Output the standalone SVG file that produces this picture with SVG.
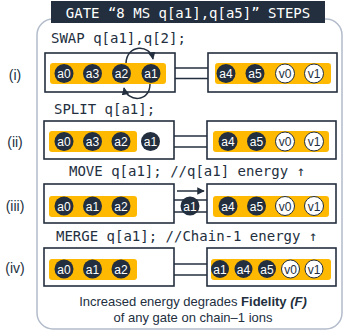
<svg xmlns="http://www.w3.org/2000/svg" width="346" height="336" viewBox="0 0 346 336">
<defs>
<style>
.code{font-family:"DejaVu Sans Mono","Liberation Mono",monospace;font-size:14px;fill:#232f3e}
.title{font-family:"DejaVu Sans Mono","Liberation Mono",monospace;font-size:14px;fill:#ffffff}
.lbl{font-family:"Liberation Sans",Arial,sans-serif;font-size:14px;fill:#232f3e;text-anchor:middle}
.box{fill:#ffffff;stroke:#232f3e;stroke-width:1.6}
.bar{fill:#ffb900}
.ion{fill:#232f3e}
.vion{fill:#ffffff;stroke:#232f3e;stroke-width:1}
.it{font-family:"Liberation Sans",Arial,sans-serif;font-size:12px;fill:#ffffff;text-anchor:middle}
.vt{font-family:"Liberation Sans",Arial,sans-serif;font-size:12px;fill:#232f3e;text-anchor:middle}
.conn{stroke:#232f3e;stroke-width:1.5;fill:none}
.note{font-family:"Liberation Sans",Arial,sans-serif;font-size:13px;fill:#232f3e;text-anchor:middle}
</style>
<marker id="ah" viewBox="0 0 10 10" refX="9" refY="5" markerWidth="5" markerHeight="5" orient="auto">
<path d="M0,0 L10,5 L0,10 z" fill="#232f3e"/>
</marker>
</defs>

<rect x="37" y="19" width="305" height="310" rx="16" fill="#ffffff" stroke="#b3bccb" stroke-width="1.5"/>
<g id="title">
<rect x="51" y="1" width="274" height="22" fill="#232f3e"/>
<text class="title" x="188" y="18" text-anchor="middle">GATE “8 MS q[a1],q[a5]” STEPS</text>
</g>

<g id="step-labels">
<text class="lbl" x="15" y="80">(i)</text>
<text class="lbl" x="15" y="147">(ii)</text>
<text class="lbl" x="15" y="211">(iii)</text>
<text class="lbl" x="15" y="273">(iv)</text>
</g>

<g id="code-lines">
<text class="code" x="51" y="43">SWAP q[a1],q[2];</text>
<text class="code" x="54" y="114">SPLIT q[a1];</text>
<text class="code" x="69" y="176">MOVE q[a1]; //q[a1] energy ↑</text>
<text class="code" x="56" y="241">MERGE q[a1]; //Chain-1 energy ↑</text>
</g>

<!-- Row i -->
<g id="row1-chain0">
<rect class="box" x="45" y="53" width="130" height="39"/>
<rect class="bar" x="50" y="63" width="116" height="21" rx="3"/>
<circle class="ion" cx="64" cy="73.5" r="9.5"/><text class="it" x="64" y="78">a0</text>
<circle class="ion" cx="92.5" cy="73.5" r="9.5"/><text class="it" x="92.5" y="78">a3</text>
<circle class="ion" cx="121.5" cy="73.5" r="9.5"/><text class="it" x="121.5" y="78">a2</text>
<circle class="ion" cx="151" cy="73.5" r="9.5"/><text class="it" x="151" y="78">a1</text>
</g>
<g id="row1-chain1">
<rect class="box" x="208" y="53" width="129" height="39"/>
<rect class="bar" x="215" y="63" width="116" height="21" rx="3"/>
<circle class="ion" cx="226" cy="73.5" r="9.5"/><text class="it" x="226" y="78">a4</text>
<circle class="ion" cx="255" cy="73.5" r="9.5"/><text class="it" x="255" y="78">a5</text>
<circle class="vion" cx="285" cy="73.5" r="9.5"/><text class="vt" x="285" y="78">v0</text>
<circle class="vion" cx="314" cy="73.5" r="9.5"/><text class="vt" x="314" y="78">v1</text>
</g>

<!-- Row ii -->
<g id="row2-chain0">
<rect class="box" x="44" y="121" width="130" height="38"/>
<rect class="bar" x="49" y="131" width="88" height="21" rx="3"/>
<circle class="ion" cx="64" cy="141.5" r="9.5"/><text class="it" x="64" y="146">a0</text>
<circle class="ion" cx="92.5" cy="141.5" r="9.5"/><text class="it" x="92.5" y="146">a3</text>
<circle class="ion" cx="121" cy="141.5" r="9.5"/><text class="it" x="121" y="146">a2</text>
<circle class="ion" cx="150.5" cy="141.5" r="9.5"/><text class="it" x="150.5" y="146">a1</text>
</g>
<g id="row2-chain1">
<rect class="box" x="207" y="121" width="129" height="38"/>
<rect class="bar" x="213" y="131" width="116" height="21" rx="3"/>
<circle class="ion" cx="228" cy="141.5" r="9.5"/><text class="it" x="228" y="146">a4</text>
<circle class="ion" cx="256.5" cy="141.5" r="9.5"/><text class="it" x="256.5" y="146">a5</text>
<circle class="vion" cx="285" cy="141.5" r="9.5"/><text class="vt" x="285" y="146">v0</text>
<circle class="vion" cx="314" cy="141.5" r="9.5"/><text class="vt" x="314" y="146">v1</text>
</g>

<!-- Row iii -->
<g id="row3-chain0">
<rect class="box" x="44" y="184" width="130" height="39"/>
<rect class="bar" x="49" y="196" width="88" height="21" rx="3"/>
<circle class="ion" cx="64" cy="206" r="9.5"/><text class="it" x="64" y="210.5">a0</text>
<circle class="ion" cx="92.5" cy="206" r="9.5"/><text class="it" x="92.5" y="210.5">a1</text>
<circle class="ion" cx="121" cy="206" r="9.5"/><text class="it" x="121" y="210.5">a2</text>
</g>
<g id="row3-chain1">
<rect class="box" x="207" y="184" width="129" height="39"/>
<rect class="bar" x="213" y="196" width="116" height="21" rx="3"/>
<circle class="ion" cx="228" cy="206" r="9.5"/><text class="it" x="228" y="210.5">a4</text>
<circle class="ion" cx="256.5" cy="206" r="9.5"/><text class="it" x="256.5" y="210.5">a5</text>
<circle class="vion" cx="285" cy="206" r="9.5"/><text class="vt" x="285" y="210.5">v0</text>
<circle class="vion" cx="314" cy="206" r="9.5"/><text class="vt" x="314" y="210.5">v1</text>
</g>

<!-- Row iv -->
<g id="row4-chain0">
<rect class="box" x="44" y="248" width="130" height="38"/>
<rect class="bar" x="49" y="259" width="88" height="21" rx="3"/>
<circle class="ion" cx="64" cy="269" r="9.5"/><text class="it" x="64" y="273.5">a0</text>
<circle class="ion" cx="92.5" cy="269" r="9.5"/><text class="it" x="92.5" y="273.5">a1</text>
<circle class="ion" cx="121" cy="269" r="9.5"/><text class="it" x="121" y="273.5">a2</text>
</g>
<g id="row4-chain1">
<rect class="box" x="207" y="248" width="129" height="38"/>
<rect class="bar" x="211" y="259" width="120" height="21" rx="3"/>
<circle class="ion" cx="220" cy="269" r="9"/><text class="it" x="220" y="273.5">a1</text>
<circle class="ion" cx="243.5" cy="269" r="9"/><text class="it" x="243.5" y="273.5">a4</text>
<circle class="ion" cx="267" cy="269" r="9"/><text class="it" x="267" y="273.5">a5</text>
<circle class="vion" cx="290.5" cy="269" r="9"/><text class="vt" x="290.5" y="273.5">v0</text>
<circle class="vion" cx="314" cy="269" r="9"/><text class="vt" x="314" y="273.5">v1</text>
</g>

<g id="connectors">
<line class="conn" x1="175" y1="68" x2="208" y2="68"/>
<line class="conn" x1="175" y1="78.5" x2="208" y2="78.5"/>
<line class="conn" x1="174" y1="136" x2="207" y2="136"/>
<line class="conn" x1="174" y1="147" x2="207" y2="147"/>
<line class="conn" x1="174" y1="200" x2="207" y2="200"/>
<line class="conn" x1="174" y1="212" x2="207" y2="212"/>
<line class="conn" x1="174" y1="264" x2="207" y2="264"/>
<line class="conn" x1="174" y1="275" x2="207" y2="275"/>
<path class="conn" d="M126,63 C127,44 150,44 153,59" marker-end="url(#ah)"/>
<path class="conn" d="M150,84 C150,103 127,102 124,88" marker-end="url(#ah)"/>
<line class="conn" x1="177" y1="191" x2="204" y2="191" marker-end="url(#ah)"/>
</g>

<g id="row3-moving-ion">
<circle class="ion" cx="190" cy="206" r="9.5"/><text class="it" x="190" y="210.5">a1</text>
</g>

<g id="note">
<text class="note" x="193" y="306">Increased energy degrades <tspan font-weight="bold">Fidelity <tspan font-style="italic">(F)</tspan></tspan></text>
<text class="note" x="193" y="322">of any gate on chain–1 ions</text>
</g>
</svg>
